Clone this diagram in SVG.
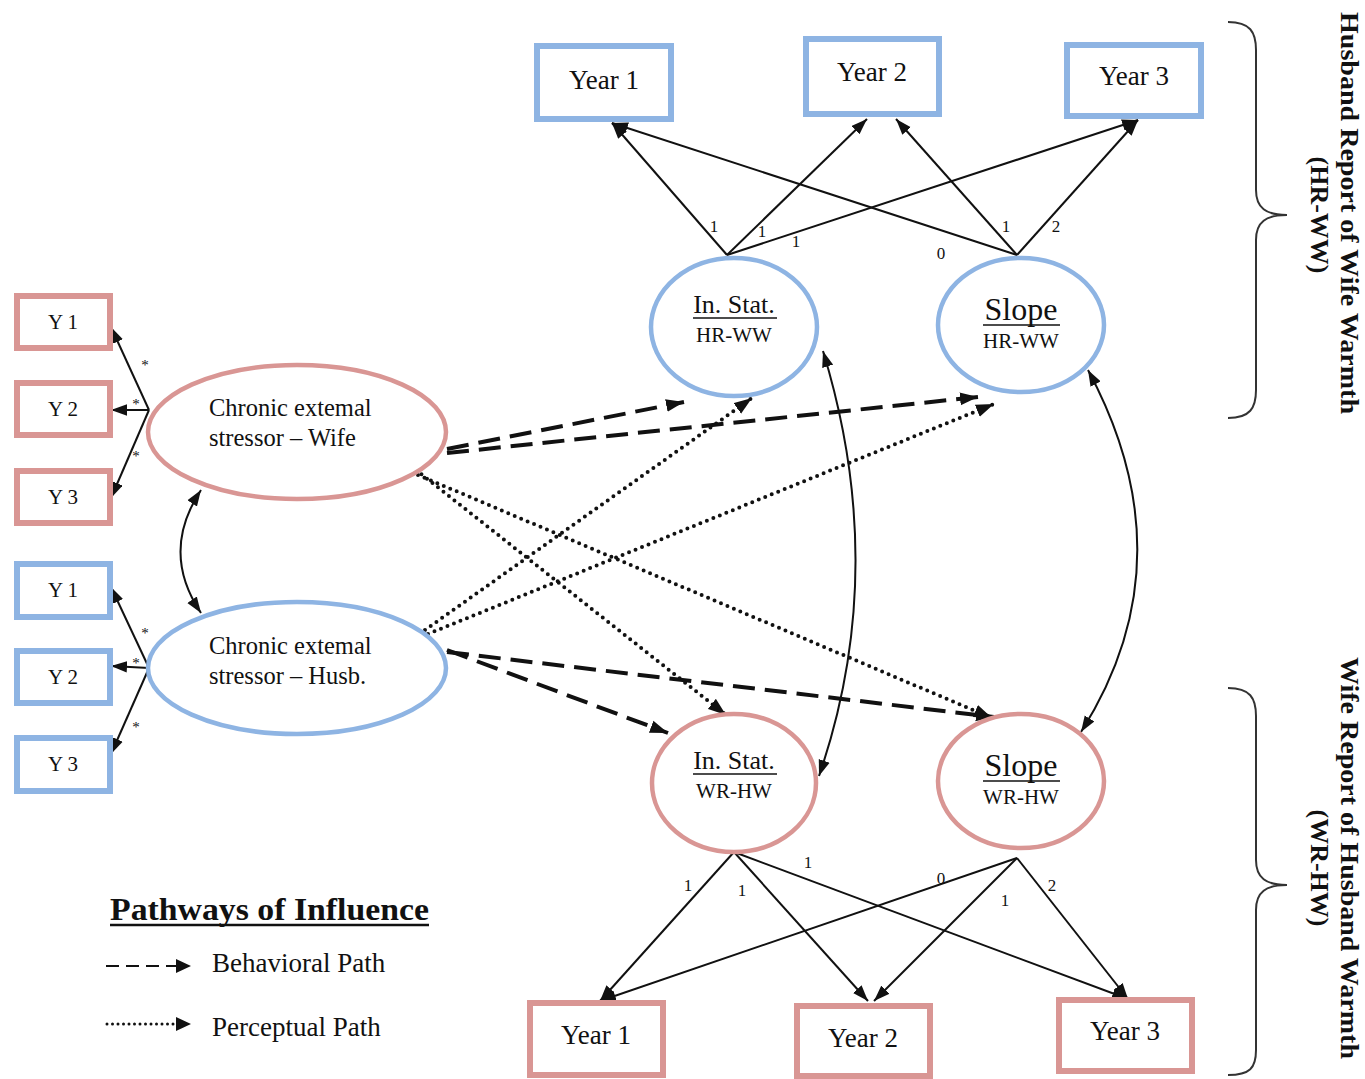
<svg xmlns="http://www.w3.org/2000/svg" width="1365" height="1079" viewBox="0 0 1365 1079">
<style>
.bg{fill:#fff}
.bbox{fill:#fff;stroke:#8eb4e3;stroke-width:6}
.pbox{fill:#fff;stroke:#d99694;stroke-width:6}
.bell{fill:#fff;stroke:#8eb4e3;stroke-width:4.5}
.pell{fill:#fff;stroke:#d99694;stroke-width:4.5}
text{font-family:"Liberation Serif","Times New Roman",serif;fill:#111}
.yr{font-size:27px;text-anchor:middle}
.yl{font-size:21px;text-anchor:middle}
.el{font-size:24.5px}
.ttl{font-size:26px;text-anchor:middle}
.slp{font-size:32px;text-anchor:middle}
.sub{font-size:21px;text-anchor:middle}
.num{font-size:17px;text-anchor:middle}
.ast{font-size:15px;text-anchor:middle;fill:#111}
.side{font-size:26px;font-weight:bold;text-anchor:middle}
.leg{font-size:27px}
.legt{font-size:31px;font-weight:bold}
.ln{fill:none;stroke:#111;stroke-width:2}
.dash{fill:none;stroke:#111;stroke-width:4;stroke-dasharray:22 10}
.dot{fill:none;stroke:#111;stroke-width:4;stroke-dasharray:0 7;stroke-linecap:round}
.ul{stroke:#111;stroke-width:1.6}
.brace{fill:none;stroke:#333;stroke-width:2}
</style>
<defs>
<marker id="ah" viewBox="0 0 14 10" refX="14" refY="5" markerWidth="16" markerHeight="12" markerUnits="userSpaceOnUse" orient="auto-start-reverse"><path d="M0,0 L14,5 L0,10 z" fill="#111"/></marker>
<marker id="ahb" viewBox="0 0 14 10" refX="14" refY="5" markerWidth="18" markerHeight="14" markerUnits="userSpaceOnUse" orient="auto"><path d="M0,0 L14,5 L0,10 z" fill="#111"/></marker>
</defs>
<rect class="bg" x="0" y="0" width="1365" height="1079"/>

<g id="connectors">
  <line class="ln" x1="727" y1="255" x2="612" y2="123" marker-end="url(#ah)"/>
  <line class="ln" x1="727" y1="255" x2="867" y2="119" marker-end="url(#ah)"/>
  <line class="ln" x1="727" y1="255" x2="1138" y2="120" marker-end="url(#ah)"/>
  <line class="ln" x1="1017" y1="255" x2="612" y2="123" marker-end="url(#ah)"/>
  <line class="ln" x1="1017" y1="255" x2="896" y2="119" marker-end="url(#ah)"/>
  <line class="ln" x1="1017" y1="255" x2="1138" y2="120" marker-end="url(#ah)"/>
  <line class="ln" x1="734" y1="852" x2="600" y2="1001" marker-end="url(#ah)"/>
  <line class="ln" x1="734" y1="852" x2="868" y2="1001" marker-end="url(#ah)"/>
  <line class="ln" x1="734" y1="852" x2="1128" y2="999" marker-end="url(#ah)"/>
  <line class="ln" x1="1017" y1="858" x2="600" y2="1001" marker-end="url(#ah)"/>
  <line class="ln" x1="1017" y1="858" x2="874" y2="1001" marker-end="url(#ah)"/>
  <line class="ln" x1="1017" y1="858" x2="1128" y2="999" marker-end="url(#ah)"/>
  <line class="ln" x1="149" y1="410" x2="111" y2="327" marker-end="url(#ah)"/>
  <line class="ln" x1="149" y1="410" x2="111" y2="410" marker-end="url(#ah)"/>
  <line class="ln" x1="149" y1="410" x2="111" y2="498" marker-end="url(#ah)"/>
  <line class="ln" x1="149" y1="668" x2="111" y2="587" marker-end="url(#ah)"/>
  <line class="ln" x1="149" y1="668" x2="111" y2="666" marker-end="url(#ah)"/>
  <line class="ln" x1="149" y1="668" x2="111" y2="754" marker-end="url(#ah)"/>
  <path class="ln" d="M201,490 Q160,552 201,613" marker-start="url(#ah)" marker-end="url(#ah)"/>
  <path class="ln" d="M823,351 Q890,570 819,776" marker-start="url(#ah)" marker-end="url(#ah)"/>
  <path class="ln" d="M1088,370 Q1190,560 1081,732" marker-start="url(#ah)" marker-end="url(#ah)"/>
  <line class="dash" x1="447" y1="449" x2="684" y2="402" marker-end="url(#ahb)"/>
  <line class="dash" x1="447" y1="453" x2="978" y2="397" marker-end="url(#ahb)"/>
  <line class="dash" x1="447" y1="650" x2="668" y2="733" marker-end="url(#ahb)"/>
  <line class="dash" x1="447" y1="652" x2="994" y2="717" marker-end="url(#ahb)"/>
  <line class="dot" x1="416" y1="470" x2="726" y2="715" marker-end="url(#ahb)"/>
  <line class="dot" x1="418" y1="475" x2="992" y2="718" marker-end="url(#ahb)"/>
  <line class="dot" x1="425" y1="630" x2="752" y2="398" marker-end="url(#ahb)"/>
  <line class="dot" x1="428" y1="634" x2="994" y2="404" marker-end="url(#ahb)"/>
</g>

<g id="labels">
  <text class="num" x="714" y="232">1</text>
  <text class="num" x="762" y="237">1</text>
  <text class="num" x="796" y="247">1</text>
  <text class="num" x="941" y="259">0</text>
  <text class="num" x="1006" y="232">1</text>
  <text class="num" x="1056" y="232">2</text>
  <text class="num" x="688" y="891">1</text>
  <text class="num" x="742" y="896">1</text>
  <text class="num" x="808" y="868">1</text>
  <text class="num" x="941" y="884">0</text>
  <text class="num" x="1005" y="906">1</text>
  <text class="num" x="1052" y="891">2</text>
  <text class="ast" x="145" y="370">*</text>
  <text class="ast" x="136" y="409">*</text>
  <text class="ast" x="136" y="461">*</text>
  <text class="ast" x="145" y="638">*</text>
  <text class="ast" x="136" y="668">*</text>
  <text class="ast" x="136" y="732">*</text>
</g>

<g id="hr-year1"><rect class="bbox" x="537" y="46" width="134" height="73"/><text class="yr" x="604" y="89">Year 1</text></g>
<g id="hr-year2"><rect class="bbox" x="806" y="39" width="133" height="75"/><text class="yr" x="872" y="81">Year 2</text></g>
<g id="hr-year3"><rect class="bbox" x="1067" y="45" width="134" height="71"/><text class="yr" x="1134" y="85">Year 3</text></g>

<g id="wr-year1"><rect class="pbox" x="530" y="1003" width="133" height="72"/><text class="yr" x="596" y="1044">Year 1</text></g>
<g id="wr-year2"><rect class="pbox" x="797" y="1006" width="133" height="70"/><text class="yr" x="863" y="1047">Year 2</text></g>
<g id="wr-year3"><rect class="pbox" x="1059" y="1000" width="133" height="71"/><text class="yr" x="1125" y="1040">Year 3</text></g>

<g id="w-y1"><rect class="pbox" x="17" y="296" width="93" height="52"/><text class="yl" x="63" y="329">Y 1</text></g>
<g id="w-y2"><rect class="pbox" x="17" y="383" width="93" height="52"/><text class="yl" x="63" y="416">Y 2</text></g>
<g id="w-y3"><rect class="pbox" x="17" y="471" width="93" height="52"/><text class="yl" x="63" y="504">Y 3</text></g>
<g id="h-y1"><rect class="bbox" x="17" y="564" width="93" height="53"/><text class="yl" x="63" y="597">Y 1</text></g>
<g id="h-y2"><rect class="bbox" x="17" y="651" width="93" height="52"/><text class="yl" x="63" y="684">Y 2</text></g>
<g id="h-y3"><rect class="bbox" x="17" y="738" width="93" height="53"/><text class="yl" x="63" y="771">Y 3</text></g>

<g id="stress-wife"><ellipse class="pell" cx="297" cy="432" rx="149" ry="67"/><text class="el" x="209" y="416">Chronic extemal</text><text class="el" x="209" y="446">stressor – Wife</text></g>
<g id="stress-husb"><ellipse class="bell" cx="297" cy="668" rx="149" ry="66"/><text class="el" x="209" y="654">Chronic extemal</text><text class="el" x="209" y="684">stressor – Husb.</text></g>

<g id="instat-hr"><ellipse class="bell" cx="734" cy="327" rx="83" ry="69"/><text class="ttl" x="734" y="313">In. Stat.</text><line class="ul" x1="693" y1="318" x2="777" y2="318"/><text class="sub" x="734" y="342">HR-WW</text></g>
<g id="slope-hr"><ellipse class="bell" cx="1021" cy="325" rx="83" ry="67"/><text class="slp" x="1021" y="320">Slope</text><line class="ul" x1="983" y1="325" x2="1060" y2="325"/><text class="sub" x="1021" y="348">HR-WW</text></g>
<g id="instat-wr"><ellipse class="pell" cx="734" cy="783" rx="82" ry="69"/><text class="ttl" x="734" y="769">In. Stat.</text><line class="ul" x1="693" y1="774" x2="777" y2="774"/><text class="sub" x="734" y="798">WR-HW</text></g>
<g id="slope-wr"><ellipse class="pell" cx="1021" cy="781" rx="83" ry="67"/><text class="slp" x="1021" y="776">Slope</text><line class="ul" x1="983" y1="781" x2="1060" y2="781"/><text class="sub" x="1021" y="804">WR-HW</text></g>

<g id="brace-hr">
  <path class="brace" d="M1228,22 C1250,22 1256,32 1256,50 L1256,190 C1256,208 1266,215 1287,215 C1266,215 1256,222 1256,240 L1256,390 C1256,408 1250,418 1228,418"/>
  <text class="side" transform="translate(1341,213) rotate(90)" textLength="402" lengthAdjust="spacingAndGlyphs">Husband Report of Wife Warmth</text>
  <text class="side" transform="translate(1311,215) rotate(90)">(HR-WW)</text>
</g>
<g id="brace-wr">
  <path class="brace" d="M1228,688 C1250,688 1256,698 1256,716 L1256,860 C1256,878 1266,885 1287,885 C1266,885 1256,892 1256,910 L1256,1050 C1256,1068 1250,1075 1228,1075"/>
  <text class="side" transform="translate(1341,858) rotate(90)" textLength="402" lengthAdjust="spacingAndGlyphs">Wife Report of Husband Warmth</text>
  <text class="side" transform="translate(1311,868) rotate(90)">(WR-HW)</text>
</g>

<g id="legend">
  <text class="legt" x="110" y="920" textLength="319" lengthAdjust="spacingAndGlyphs">Pathways of Influence</text>
  <line x1="110" y1="925" x2="429" y2="925" stroke="#111" stroke-width="2.5"/>
  <line x1="106" y1="966" x2="176" y2="966" stroke="#111" stroke-width="2" stroke-dasharray="13 7"/>
  <path d="M176,959 L191,966 L176,973 z" fill="#111"/>
  <text class="leg" x="212" y="972">Behavioral Path</text>
  <line x1="107" y1="1024" x2="176" y2="1024" stroke="#111" stroke-width="3" stroke-dasharray="0 5.5" stroke-linecap="round"/>
  <path d="M176,1017 L191,1024 L176,1031 z" fill="#111"/>
  <text class="leg" x="212" y="1036">Perceptual Path</text>
</g>
</svg>
